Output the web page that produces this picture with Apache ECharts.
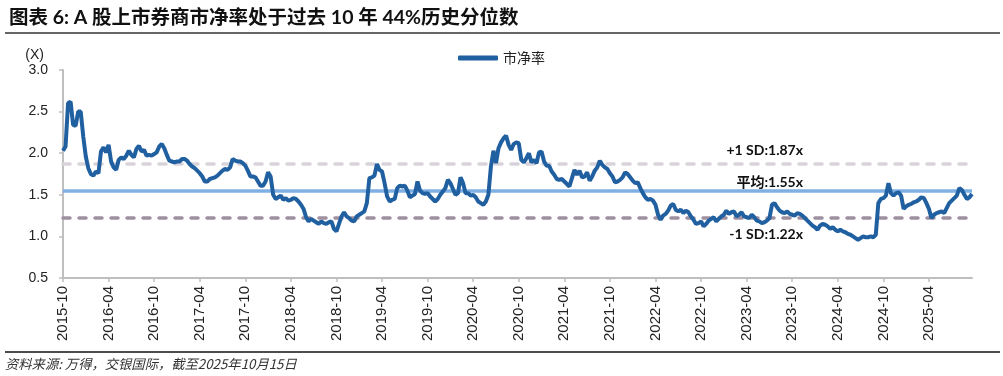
<!DOCTYPE html>
<html>
<head>
<meta charset="utf-8">
<script src="https://cdn.jsdelivr.net/npm/echarts@6.0.0/dist/echarts.min.js"></script>
<style>
  html, body { margin: 0; padding: 0; background: #fff; }
  #echarts-graph { width: 1003px; height: 376px; }
</style>
</head>
<body>
<div id="echarts-graph"></div>
<script>
// 市净率, three readings per month (day 01 / 11 / 21), from 2015-10 onwards
const pbValues = [
  2.03, 2.08, 2.60, 2.62, 2.34, 2.33, 2.50, 2.50, 2.20, 1.96,
  1.82, 1.75, 1.73, 1.78, 1.76, 2.02, 2.07, 2.01, 2.10, 1.90,
  1.83, 1.80, 1.92, 1.95, 1.93, 1.97, 2.03, 1.98, 1.95, 2.05,
  2.09, 2.02, 2.04, 1.97, 1.98, 1.97, 1.99, 2.01, 2.08, 2.11,
  2.06, 1.98, 1.91, 1.90, 1.89, 1.90, 1.90, 1.93, 1.93, 1.91,
  1.87, 1.84, 1.82, 1.79, 1.76, 1.72, 1.66, 1.66, 1.69, 1.70,
  1.71, 1.73, 1.76, 1.79, 1.81, 1.80, 1.83, 1.93, 1.91, 1.90,
  1.90, 1.88, 1.85, 1.79, 1.72, 1.72, 1.71, 1.66, 1.61, 1.61,
  1.66, 1.77, 1.72, 1.50, 1.45, 1.47, 1.49, 1.44, 1.46, 1.43,
  1.44, 1.46, 1.45, 1.42, 1.38, 1.33, 1.23, 1.18, 1.21, 1.19,
  1.17, 1.15, 1.18, 1.16, 1.15, 1.17, 1.18, 1.09, 1.06, 1.15,
  1.24, 1.29, 1.24, 1.22, 1.19, 1.18, 1.24, 1.26, 1.28, 1.30,
  1.40, 1.70, 1.71, 1.73, 1.87, 1.80, 1.78, 1.64, 1.48, 1.42,
  1.44, 1.45, 1.58, 1.61, 1.60, 1.61, 1.55, 1.47, 1.49, 1.51,
  1.66, 1.55, 1.52, 1.51, 1.52, 1.48, 1.45, 1.42, 1.45, 1.50,
  1.54, 1.58, 1.68, 1.64, 1.57, 1.50, 1.52, 1.71, 1.64, 1.52,
  1.52, 1.49, 1.50, 1.47, 1.42, 1.40, 1.38, 1.42, 1.50, 1.84,
  2.03, 1.88, 2.06, 2.13, 2.18, 2.21, 2.10, 2.04, 2.11, 2.13,
  2.12, 1.92, 1.89, 1.94, 2.00, 1.89, 1.92, 1.88, 2.01, 2.02,
  1.90, 1.85, 1.85, 1.78, 1.74, 1.69, 1.68, 1.69, 1.66, 1.63,
  1.60, 1.70, 1.80, 1.74, 1.79, 1.71, 1.72, 1.77, 1.67, 1.72,
  1.79, 1.83, 1.91, 1.86, 1.83, 1.81, 1.76, 1.72, 1.65, 1.66,
  1.68, 1.71, 1.77, 1.75, 1.71, 1.67, 1.64, 1.65, 1.58, 1.52,
  1.47, 1.44, 1.45, 1.43, 1.38, 1.26, 1.20, 1.25, 1.27, 1.31,
  1.37, 1.39, 1.32, 1.30, 1.32, 1.28, 1.31, 1.29, 1.24, 1.20,
  1.15, 1.16, 1.18, 1.12, 1.15, 1.19, 1.21, 1.23, 1.18, 1.21,
  1.24, 1.26, 1.31, 1.27, 1.29, 1.30, 1.24, 1.26, 1.29, 1.24,
  1.23, 1.22, 1.26, 1.23, 1.19, 1.18, 1.16, 1.17, 1.19, 1.22,
  1.38, 1.40, 1.35, 1.31, 1.29, 1.28, 1.30, 1.27, 1.26, 1.25,
  1.28, 1.27, 1.25, 1.22, 1.19, 1.16, 1.13, 1.11, 1.08, 1.13,
  1.15, 1.14, 1.12, 1.09, 1.11, 1.08, 1.06, 1.08, 1.06, 1.05,
  1.03, 1.02, 1.00, 0.98, 0.96, 0.98, 1.00, 0.99, 0.99, 1.00,
  0.99, 1.02, 1.40, 1.45, 1.46, 1.49, 1.64, 1.52, 1.49, 1.52,
  1.53, 1.49, 1.33, 1.36, 1.38, 1.39, 1.41, 1.42, 1.44, 1.47,
  1.46, 1.40, 1.33, 1.22, 1.26, 1.28, 1.29, 1.30, 1.28, 1.34,
  1.40, 1.43, 1.46, 1.49, 1.58, 1.56, 1.50, 1.45, 1.47, 1.51
];
const avgPB = 1.55;
const upperPB = 1.87;
const lowerPB = 1.22;
const labelMonths = ['04', '10'];
const readingDays = ['01', '11', '21'];
const startYear = 2015;
const startMonth = 10;

window.addEventListener('load', function() {
  const echartsGraph = document.getElementById('echarts-graph');
  const myChart = echarts.init(echartsGraph);

  // dates for each reading
  const dates = pbValues.map(function(v, i) {
    const m = startMonth - 1 + Math.floor(i / readingDays.length);
    const y = startYear + Math.floor(m / 12);
    const mm = String(m % 12 + 1).padStart(2, '0');
    return y + '-' + mm + '-' + readingDays[i % readingDays.length];
  });

  const showDate = function(index, value) {
    return value.slice(8) === '01' && labelMonths.indexOf(value.slice(5, 7)) > -1;
  };

  const latin = "'Lato', 'Noto Sans CJK SC', sans-serif";
  const cjk = "'Noto Sans CJK SC', sans-serif";
  const axisFont = "'Liberation Sans', Arial, sans-serif";

  const option = {
    animation: false,
    title: {
      text: '图表 6: A 股上市券商市净率处于过去 10 年 44%历史分位数',
      left: 4,
      top: 3,
      textStyle: { fontSize: 19.5, fontWeight: 'bold', color: '#111', fontFamily: latin }
    },
    legend: {
      data: ['市净率'],
      left: 'center',
      top: 46,
      icon: 'roundRect',
      itemWidth: 40,
      itemHeight: 5,
      itemGap: 6,
      textStyle: { fontSize: 14, color: '#222', fontFamily: cjk }
    },
    grid: { left: 63, right: 31, top: 70, bottom: 98 },
    xAxis: {
      type: 'category',
      data: dates,
      boundaryGap: false,
      axisLine: { lineStyle: { color: '#bfbfbf', width: 2 } },
      axisTick: { interval: showDate, length: 4, lineStyle: { color: '#bfbfbf', width: 1.5 } },
      axisLabel: {
        interval: showDate,
        rotate: 90,
        margin: 8,
        fontSize: 15,
        color: '#222',
        fontFamily: axisFont,
        formatter: function(value) { return value.slice(0, 7); }
      },
      splitLine: { show: false }
    },
    yAxis: {
      type: 'value',
      min: 0.5,
      max: 3.0,
      interval: 0.5,
      name: '(X)',
      nameLocation: 'end',
      nameGap: 8,
      nameTextStyle: { align: 'right', padding: [0, 19, 0, 0], fontSize: 14, color: '#222', fontFamily: axisFont },
      axisLine: { show: true, lineStyle: { color: '#bfbfbf', width: 2 } },
      axisTick: { show: true, length: 4, lineStyle: { color: '#bfbfbf', width: 1.5 } },
      axisLabel: {
        margin: 15,
        fontSize: 14,
        color: '#222',
        fontFamily: axisFont,
        formatter: function(v) { return v.toFixed(1); }
      },
      splitLine: { show: false }
    },
    series: [
      {
        name: '市净率',
        type: 'line',
        data: pbValues,
        showSymbol: false,
        z: 3,
        lineStyle: { color: '#2160a0', width: 4 },
        itemStyle: { color: '#2160a0' },
        markLine: {
          silent: true,
          symbol: 'none',
          z: 2,
          data: [
            {
              yAxis: upperPB,
              lineStyle: { color: '#d8d3db', width: 3.5, type: [7, 9], cap: 'round' },
              label: {
                position: 'insideEndTop', distance: [169, 7],
                formatter: '+1 SD:' + upperPB.toFixed(2) + 'x',
                fontSize: 14, fontWeight: 'bold', color: '#111', fontFamily: latin
              }
            },
            {
              yAxis: avgPB,
              lineStyle: { color: '#7eb0e4', width: 3.5, type: 'solid' },
              label: {
                position: 'insideEndTop', distance: [169, 1],
                formatter: '平均:' + avgPB.toFixed(2) + 'x',
                fontSize: 14, fontWeight: 'bold', color: '#111', fontFamily: latin
              }
            },
            {
              yAxis: lowerPB,
              lineStyle: { color: '#9e90a0', width: 3.5, type: [7, 9], cap: 'round' },
              label: {
                position: 'insideEndBottom', distance: [169, 9],
                formatter: '-1 SD:' + lowerPB.toFixed(2) + 'x',
                fontSize: 14, fontWeight: 'bold', color: '#111', fontFamily: latin
              }
            }
          ]
        }
      }
    ],
    graphic: [
      {
        type: 'line',
        shape: { x1: 5, y1: 33, x2: 1000, y2: 33 },
        style: { stroke: '#333', lineWidth: 1.5 }
      },
      {
        type: 'line',
        shape: { x1: 5, y1: 352, x2: 1000, y2: 352 },
        style: { stroke: '#111', lineWidth: 1.5 }
      },
      {
        type: 'text',
        left: 5,
        top: 357,
        style: {
          text: '资料来源: 万得，交银国际，截至2025年10月15日',
          fontSize: 13.3,
          fontStyle: 'italic',
          fill: '#333',
          fontFamily: cjk
        }
      }
    ]
  };

  myChart.setOption(option);

  window.addEventListener('resize', function() {
    myChart.resize();
  });
});
</script>
</body>
</html>
